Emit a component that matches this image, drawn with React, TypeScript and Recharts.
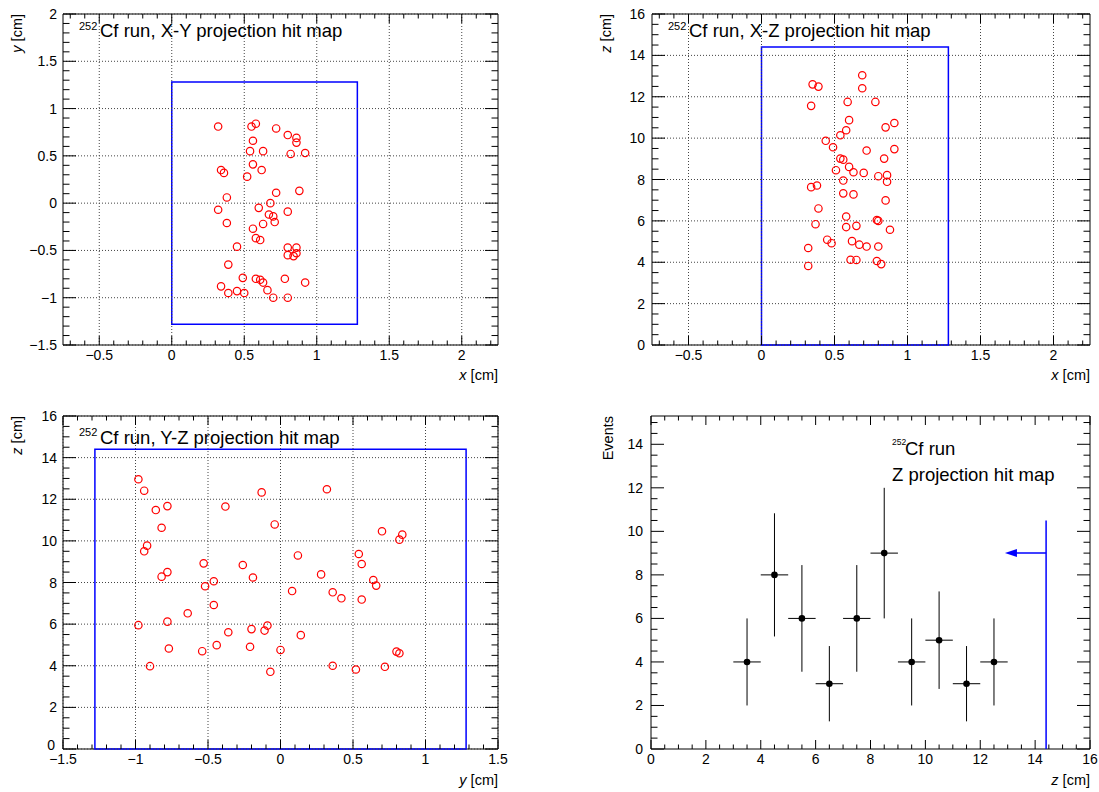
import { ComposedChart, Scatter, XAxis, YAxis, ReferenceLine, ReferenceArea, ErrorBar } from 'recharts';

const FONT = '"Liberation Sans", Arial, Helvetica, sans-serif';

// hit positions (cm)
const xyHits = [
  { x: 0.32, y: 0.81 }, { x: 0.55, y: 0.81 }, { x: 0.58, y: 0.84 }, { x: 0.72, y: 0.79 },
  { x: 0.80, y: 0.72 }, { x: 0.86, y: 0.69 }, { x: 0.86, y: 0.64 }, { x: 0.56, y: 0.66 },
  { x: 0.54, y: 0.55 }, { x: 0.63, y: 0.55 }, { x: 0.82, y: 0.52 }, { x: 0.92, y: 0.53 },
  { x: 0.56, y: 0.41 }, { x: 0.62, y: 0.35 }, { x: 0.34, y: 0.35 }, { x: 0.36, y: 0.32 },
  { x: 0.52, y: 0.28 }, { x: 0.72, y: 0.11 }, { x: 0.88, y: 0.13 }, { x: 0.38, y: 0.06 },
  { x: 0.68, y: 0.0 }, { x: 0.32, y: -0.07 }, { x: 0.60, y: -0.05 }, { x: 0.80, y: -0.09 },
  { x: 0.67, y: -0.12 }, { x: 0.70, y: -0.14 }, { x: 0.71, y: -0.20 }, { x: 0.38, y: -0.21 },
  { x: 0.63, y: -0.22 }, { x: 0.56, y: -0.27 }, { x: 0.58, y: -0.37 }, { x: 0.61, y: -0.39 },
  { x: 0.45, y: -0.46 }, { x: 0.80, y: -0.47 }, { x: 0.86, y: -0.47 }, { x: 0.80, y: -0.55 },
  { x: 0.84, y: -0.56 }, { x: 0.86, y: -0.53 }, { x: 0.39, y: -0.65 }, { x: 0.49, y: -0.79 },
  { x: 0.58, y: -0.80 }, { x: 0.61, y: -0.81 }, { x: 0.63, y: -0.84 }, { x: 0.78, y: -0.80 },
  { x: 0.92, y: -0.84 }, { x: 0.34, y: -0.88 }, { x: 0.66, y: -0.92 }, { x: 0.45, y: -0.93 },
  { x: 0.39, y: -0.95 }, { x: 0.50, y: -0.95 }, { x: 0.70, y: -1.0 }, { x: 0.80, y: -1.0 },
];

// X-Z projection
const xzHits = [
  { x: 0.69, z: 13.04 }, { x: 0.35, z: 12.6 }, { x: 0.39, z: 12.49 }, { x: 0.69, z: 12.41 },
  { x: 0.34, z: 11.56 }, { x: 0.59, z: 11.75 }, { x: 0.78, z: 11.75 }, { x: 0.60, z: 10.87 },
  { x: 0.91, z: 10.73 }, { x: 0.85, z: 10.52 }, { x: 0.58, z: 10.38 }, { x: 0.54, z: 10.14 },
  { x: 0.44, z: 9.87 }, { x: 0.49, z: 9.56 }, { x: 0.72, z: 9.40 }, { x: 0.91, z: 9.47 },
  { x: 0.84, z: 9.01 }, { x: 0.54, z: 9.01 }, { x: 0.56, z: 8.96 }, { x: 0.60, z: 8.61 },
  { x: 0.51, z: 8.45 }, { x: 0.63, z: 8.35 }, { x: 0.70, z: 8.32 }, { x: 0.80, z: 8.16 },
  { x: 0.86, z: 8.21 }, { x: 0.86, z: 7.89 }, { x: 0.56, z: 7.95 }, { x: 0.38, z: 7.71 },
  { x: 0.34, z: 7.63 }, { x: 0.56, z: 7.33 }, { x: 0.63, z: 7.28 }, { x: 0.85, z: 6.99 },
  { x: 0.39, z: 6.60 }, { x: 0.58, z: 6.21 }, { x: 0.79, z: 6.04 }, { x: 0.80, z: 6.0 },
  { x: 0.37, z: 5.84 }, { x: 0.58, z: 5.70 }, { x: 0.65, z: 5.76 }, { x: 0.88, z: 5.57 },
  { x: 0.45, z: 5.09 }, { x: 0.48, z: 4.92 }, { x: 0.62, z: 5.02 }, { x: 0.67, z: 4.85 },
  { x: 0.72, z: 4.76 }, { x: 0.80, z: 4.76 }, { x: 0.32, z: 4.69 }, { x: 0.61, z: 4.12 },
  { x: 0.65, z: 4.11 }, { x: 0.79, z: 4.06 }, { x: 0.82, z: 3.91 }, { x: 0.32, z: 3.82 },
];

// Y-Z projection
const yzHits = [
  { y: -0.98, z: 12.96 }, { y: -0.94, z: 12.41 }, { y: -0.13, z: 12.33 }, { y: -0.78, z: 11.67 },
  { y: -0.86, z: 11.48 }, { y: -0.38, z: 11.65 }, { y: -0.82, z: 10.63 }, { y: -0.92, z: 9.77 },
  { y: -0.94, z: 9.50 }, { y: -0.53, z: 8.92 }, { y: -0.26, z: 8.84 }, { y: -0.78, z: 8.50 },
  { y: -0.82, z: 8.28 }, { y: -0.19, z: 8.24 }, { y: -0.46, z: 8.06 }, { y: -0.52, z: 7.82 },
  { y: -0.46, z: 6.92 }, { y: -0.64, z: 6.52 }, { y: -0.78, z: 6.12 }, { y: -0.98, z: 5.95 },
  { y: -0.36, z: 5.61 }, { y: -0.20, z: 5.76 }, { y: -0.11, z: 5.69 }, { y: -0.09, z: 5.93 },
  { y: -0.77, z: 4.83 }, { y: -0.44, z: 4.99 }, { y: -0.21, z: 4.91 }, { y: -0.54, z: 4.70 },
  { y: -0.90, z: 3.98 }, { y: -0.07, z: 3.71 }, { y: 0.32, z: 12.48 }, { y: -0.04, z: 10.79 },
  { y: 0.70, z: 10.46 }, { y: 0.84, z: 10.30 }, { y: 0.82, z: 10.06 }, { y: 0.12, z: 9.30 },
  { y: 0.54, z: 9.37 }, { y: 0.56, z: 8.89 }, { y: 0.28, z: 8.39 }, { y: 0.64, z: 8.12 },
  { y: 0.66, z: 7.85 }, { y: 0.08, z: 7.59 }, { y: 0.36, z: 7.53 }, { y: 0.42, z: 7.24 },
  { y: 0.56, z: 7.18 }, { y: 0.14, z: 5.47 }, { y: 0.0, z: 4.76 }, { y: 0.80, z: 4.68 },
  { y: 0.82, z: 4.60 }, { y: 0.36, z: 4.00 }, { y: 0.72, z: 3.95 }, { y: 0.52, z: 3.82 },
];

// Z histogram
const zBinCenters = [3.5, 4.5, 5.5, 6.5, 7.5, 8.5, 9.5, 10.5, 11.5, 12.5];
const zCounts = [4, 8, 6, 3, 6, 9, 4, 5, 3, 4];
const zErrors = [2.0, 2.83, 2.45, 1.73, 2.45, 3.0, 2.0, 2.24, 1.73, 2.0];
const zBinHalf = 0.5;

// detector volume + z cut marker
const boxX = [0, 1.28];
const boxY = [-1.28, 1.28];
const boxZ = [0, 14.4];
const cutLineTop = 10.5;
const cutArrowY = 9;
const cutArrowTip = 12.9;

const histData = zBinCenters.map((z, i) => ({ z, n: zCounts[i], err: zErrors[i], xerr: zBinHalf }));
const arrowHead = [{ z: cutArrowTip, n: cutArrowY }];

const range = (a: number, b: number, step: number) => {
  const out: number[] = [];
  for (let v = a; v <= b + 1e-9; v += step) out.push(Math.round(v * 1000) / 1000);
  return out;
};
const fmt = (v: number) => (v < 0 ? '\u2212' : '') + String(Math.abs(v));
const isIn = (list: number[], v: number) => list.some((m) => Math.abs(m - v) < 1e-6);

// ticks drawn inward on both sides, like ROOT frames
function XTick(props: any) {
  const { x, y, payload, majors, plotH } = props;
  const major = isIn(majors, payload.value);
  const len = major ? 9 : 4.5;
  return (
    <g>
      <line x1={x} x2={x} y1={y} y2={y - len} stroke="#000" />
      <line x1={x} x2={x} y1={y - plotH} y2={y - plotH + len} stroke="#000" />
      {major && (
        <text x={x} y={y + 15} textAnchor="middle" fontSize={14} fontFamily={FONT} fill="#000">
          {fmt(payload.value)}
        </text>
      )}
    </g>
  );
}

function YTick(props: any) {
  const { x, y, payload, majors, plotW, gap, liftMin, minVal } = props;
  const major = isIn(majors, payload.value);
  const len = major ? 13 : 6.5;
  // bottom label nudged up when it would collide with the first x label
  const lift = liftMin && Math.abs(payload.value - minVal) < 1e-6 ? 4 : 0;
  return (
    <g>
      <line x1={x} x2={x + len} y1={y} y2={y} stroke="#000" />
      <line x1={x + plotW} x2={x + plotW - len} y1={y} y2={y} stroke="#000" />
      {major && (
        <text x={x - gap - lift / 2} y={y + 5 - lift} textAnchor="end" fontSize={14} fontFamily={FONT} fill="#000">
          {fmt(payload.value)}
        </text>
      )}
    </g>
  );
}

const OpenCircle = (p: any) => (
  <circle cx={p.cx} cy={p.cy} r={3.7} fill="none" stroke="#ff0000" strokeWidth={1.2} />
);
const BlackDot = (p: any) => <circle cx={p.cx} cy={p.cy} r={3.3} fill="#000" />;
const LeftArrow = (p: any) => (
  <path d={`M${p.cx},${p.cy} L${p.cx + 12},${p.cy - 4} L${p.cx + 12},${p.cy + 4} Z`} fill="#0000ff" />
);

type Cfg = {
  left: number; top: number; width: number; height: number;
  margin: { top: number; right: number; bottom: number; left: number };
  xKey: string; yKey: string;
  xDomain: number[]; yDomain: number[];
  xMajor: number[]; xTicks: number[]; yMajor: number[]; yTicks: number[];
  grid: boolean; gap: number; liftMin?: boolean;
};

// margins are pad edge -> frame edge; axes take 1px, subtracted below
const pXY: Cfg = {
  left: 0, top: 0, width: 549, height: 396, margin: { top: 14, right: 51, bottom: 51, left: 63 },
  xKey: 'x', yKey: 'y', xDomain: [-0.75, 2.25], yDomain: [-1.5, 2],
  xMajor: [-0.5, 0, 0.5, 1, 1.5, 2], xTicks: range(-0.7, 2.2, 0.1),
  yMajor: [-1.5, -1, -0.5, 0, 0.5, 1, 1.5, 2], yTicks: range(-1.5, 2, 0.1), grid: true, gap: 6,
};
const pXZ: Cfg = {
  left: 549, top: 0, width: 550, height: 396, margin: { top: 14, right: 9, bottom: 51, left: 103 },
  xKey: 'x', yKey: 'z', xDomain: [-0.75, 2.25], yDomain: [0, 16],
  xMajor: [-0.5, 0, 0.5, 1, 1.5, 2], xTicks: range(-0.7, 2.2, 0.1),
  yMajor: range(0, 16, 2), yTicks: range(0, 16, 0.5), grid: true, gap: 7,
};
const pYZ: Cfg = {
  left: 0, top: 396, width: 549, height: 396, margin: { top: 20, right: 51, bottom: 43, left: 63 },
  xKey: 'y', yKey: 'z', xDomain: [-1.5, 1.5], yDomain: [0, 16],
  xMajor: [-1.5, -1, -0.5, 0, 0.5, 1, 1.5], xTicks: range(-1.5, 1.5, 0.1),
  yMajor: range(0, 16, 2), yTicks: range(0, 16, 0.5), grid: true, gap: 6, liftMin: true,
};
const pZ: Cfg = {
  left: 549, top: 396, width: 550, height: 396, margin: { top: 20, right: 9, bottom: 43, left: 102 },
  xKey: 'z', yKey: 'n', xDomain: [0, 16], yDomain: [0, 15.3],
  xMajor: range(0, 16, 2), xTicks: range(0, 16, 0.5),
  yMajor: range(0, 14, 2), yTicks: range(0, 15, 0.5), grid: false, gap: 8,
};

function Panel({ cfg, children }: { cfg: Cfg; children: any }) {
  const plotW = cfg.width - cfg.margin.left - cfg.margin.right;
  const plotH = cfg.height - cfg.margin.top - cfg.margin.bottom;
  const m = { ...cfg.margin, left: cfg.margin.left - 1, bottom: cfg.margin.bottom - 1 };
  return (
    <div style={{ position: 'absolute', left: cfg.left, top: cfg.top }}>
      <ComposedChart width={cfg.width} height={cfg.height} margin={m}>
        <XAxis
          type="number" dataKey={cfg.xKey} domain={cfg.xDomain} ticks={cfg.xTicks} interval={0}
          height={1} tickSize={0} tickMargin={0} axisLine={false} tickLine={false} allowDataOverflow
          tick={<XTick majors={cfg.xMajor} plotH={plotH} />}
        />
        <YAxis
          type="number" dataKey={cfg.yKey} domain={cfg.yDomain} ticks={cfg.yTicks} interval={0}
          width={1} tickSize={0} tickMargin={0} axisLine={false} tickLine={false} allowDataOverflow
          tick={<YTick majors={cfg.yMajor} plotW={plotW} gap={cfg.gap} liftMin={!!cfg.liftMin} minVal={cfg.yDomain[0]} />}
        />
        {cfg.grid && cfg.xMajor.map((v) => (
          <ReferenceLine key={'gx' + v} x={v} stroke="#444" strokeDasharray="1 2" />
        ))}
        {cfg.grid && cfg.yMajor.map((v) => (
          <ReferenceLine key={'gy' + v} y={v} stroke="#444" strokeDasharray="1 2" />
        ))}
        <ReferenceArea
          x1={cfg.xDomain[0]} x2={cfg.xDomain[1]} y1={cfg.yDomain[0]} y2={cfg.yDomain[1]}
          fill="none" stroke="#000" strokeWidth={1}
        />
        {children}
      </ComposedChart>
    </div>
  );
}

export default function App() {
  return (
    <div style={{ position: 'absolute', left: 0, top: 0, width: 1099, height: 792, background: '#fff', fontFamily: FONT }}>
      <Panel cfg={pXY}>
        <ReferenceArea x1={boxX[0]} x2={boxX[1]} y1={boxY[0]} y2={boxY[1]} fill="none" stroke="#0000ff" strokeWidth={1.5} />
        <Scatter data={xyHits} shape={OpenCircle} isAnimationActive={false} />
      </Panel>
      <Panel cfg={pXZ}>
        <ReferenceArea x1={boxX[0]} x2={boxX[1]} y1={boxZ[0]} y2={boxZ[1]} fill="none" stroke="#0000ff" strokeWidth={1.5} />
        <Scatter data={xzHits} shape={OpenCircle} isAnimationActive={false} />
      </Panel>
      <Panel cfg={pYZ}>
        <ReferenceArea x1={boxY[0]} x2={boxY[1]} y1={boxZ[0]} y2={boxZ[1]} fill="none" stroke="#0000ff" strokeWidth={1.5} />
        <Scatter data={yzHits} shape={OpenCircle} isAnimationActive={false} />
      </Panel>
      <Panel cfg={pZ}>
        <ReferenceLine segment={[{ x: boxZ[1], y: 0 }, { x: boxZ[1], y: cutLineTop }]} stroke="#0000ff" strokeWidth={1.5} />
        <ReferenceLine segment={[{ x: boxZ[1], y: cutArrowY }, { x: cutArrowTip + 0.3, y: cutArrowY }]} stroke="#0000ff" strokeWidth={1.5} />
        <Scatter data={arrowHead} shape={LeftArrow} isAnimationActive={false} />
        <Scatter data={histData} shape={BlackDot} isAnimationActive={false}>
          <ErrorBar dataKey="err" direction="y" width={0} stroke="#000" strokeWidth={1} isAnimationActive={false} />
          <ErrorBar dataKey="xerr" direction="x" width={0} stroke="#000" strokeWidth={1} isAnimationActive={false} />
        </Scatter>
      </Panel>

      <svg width={1099} height={792} style={{ position: 'absolute', left: 0, top: 0, pointerEvents: 'none' }} fontFamily={FONT} fill="#000">
        {/* X-Y */}
        <text x={79} y={29.5} fontSize={11}>252</text>
        <text x={100} y={37} fontSize={18.5}>Cf run, X-Y projection hit map</text>
        <text x={498} y={380} fontSize={14.5} textAnchor="end"><tspan fontStyle="italic">x</tspan> [cm]</text>
        <text transform="translate(22,14) rotate(-90)" fontSize={14.5} textAnchor="end"><tspan fontStyle="italic">y</tspan> [cm]</text>
        {/* X-Z */}
        <text x={668} y={29.5} fontSize={11}>252</text>
        <text x={689} y={37} fontSize={18.5}>Cf run, X-Z projection hit map</text>
        <text x={1090} y={380} fontSize={14.5} textAnchor="end"><tspan fontStyle="italic">x</tspan> [cm]</text>
        <text transform="translate(611,14) rotate(-90)" fontSize={14.5} textAnchor="end"><tspan fontStyle="italic">z</tspan> [cm]</text>
        {/* Y-Z */}
        <text x={79} y={436} fontSize={11}>252</text>
        <text x={100} y={443.5} fontSize={18.5}>Cf run, Y-Z projection hit map</text>
        <text x={498} y={785} fontSize={14.5} textAnchor="end"><tspan fontStyle="italic">y</tspan> [cm]</text>
        <text transform="translate(22,416) rotate(-90)" fontSize={14.5} textAnchor="end"><tspan fontStyle="italic">z</tspan> [cm]</text>
        {/* Z */}
        <text x={892} y={445} fontSize={8.5}>252</text>
        <text x={905} y={455} fontSize={18.5}>Cf run</text>
        <text x={892} y={481} fontSize={18.5}>Z projection hit map</text>
        <text x={1090} y={785} fontSize={14.5} textAnchor="end"><tspan fontStyle="italic">z</tspan> [cm]</text>
        <text transform="translate(613,416) rotate(-90)" fontSize={14.5} textAnchor="end">Events</text>
      </svg>
    </div>
  );
}
